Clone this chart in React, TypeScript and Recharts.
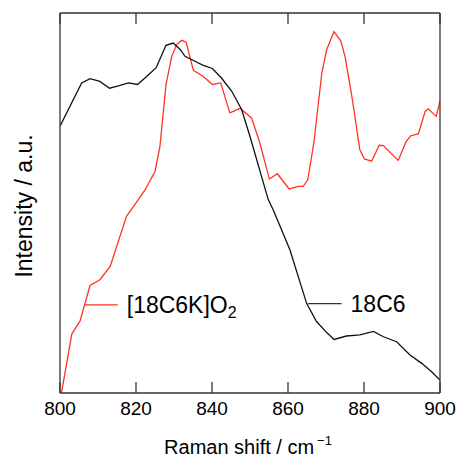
import React from 'react';
import { LineChart, Line, XAxis, YAxis, ReferenceLine } from 'recharts';

// Raman shift (cm-1) and intensity (a.u.)
const SHIFT_18C6 = [800, 805.7, 807.9, 810.5, 813, 815.4, 818, 820.4, 822.8, 825.3, 827.9, 829.8, 831.6, 832.9, 835.1, 837.7, 840.1, 842.5, 845.2, 847.8, 850, 854.8, 856.1, 860.5, 864.9, 867.5, 870.2, 872.1, 875.4, 878.9, 882.5, 885.1, 888.6, 892.1, 895.2, 897.8, 900];
const INT_18C6 = [70.2, 81.6, 82.7, 82.0, 80.2, 80.8, 81.6, 81.2, 83.3, 85.6, 91.5, 92.1, 90.4, 88.6, 87.5, 86.2, 85.4, 82.9, 79.4, 74.6, 67.5, 50.9, 48.2, 37.7, 23.6, 18.8, 15.9, 14.1, 15.0, 15.3, 16.2, 14.8, 13.5, 10.0, 7.8, 5.6, 3.4];

const SHIFT_K = [800.4, 803.1, 805.3, 807.9, 810.5, 813.2, 817.5, 820.6, 822.4, 825, 826.3, 827.9, 829.4, 830.7, 832, 833.2, 835.1, 837.7, 840.1, 842.3, 844.7, 847.4, 850.4, 852.6, 855.1, 857.2, 860.3, 862.7, 864, 865.2, 866.8, 868.9, 870.2, 872.1, 873.9, 875, 876.8, 878.9, 880.1, 882, 884, 885.1, 889, 891.1, 892.3, 894.3, 896.1, 896.9, 899, 900];
const INT_K = [0.1, 15.5, 19.0, 28.3, 29.8, 33.3, 46.5, 50.9, 53.5, 58.3, 64.9, 81.2, 88.6, 91.7, 92.8, 92.3, 84.9, 83.3, 81.2, 81.6, 73.7, 74.9, 72.4, 65.8, 56.3, 57.7, 53.7, 54.4, 54.4, 56.1, 65.8, 84.2, 90.4, 95.1, 92.6, 88.6, 78.1, 64.0, 61.6, 61.0, 65.2, 65.1, 61.2, 66.2, 67.7, 68.2, 74.1, 74.8, 72.8, 76.8];

const X_TICKS = [800, 820, 840, 860, 880, 900];

// leader lines next to the in-plot labels: [x start, x end, y]
const LEAD_K = [806.4, 815.2, 23.2];
const LEAD_18C6 = [865.3, 874.1, 23.5];

const RED = '#FF3322';
const AXIS = '#333';
const Y_MAX = 100;
const TOP_TICK = 2.9; // inward tick length on the top frame, in y units

const data18C6 = SHIFT_18C6.map((x, i) => ({ x, y: INT_18C6[i] }));
const dataK = SHIFT_K.map((x, i) => ({ x, y: INT_K[i] }));

const YTitle = (props: any) => {
  const { viewBox } = props;
  const cx = viewBox.x - 27;
  const cy = viewBox.y + viewBox.height / 2 + 3;
  return (
    <text x={cx} y={cy} transform={`rotate(-90 ${cx} ${cy})`} textAnchor="middle" fontSize={23} fill="#000">
      Intensity / a.u.
    </text>
  );
};

const XTitle = (props: any) => {
  const { viewBox } = props;
  return (
    <text x={viewBox.x + viewBox.width / 2 - 2} y={viewBox.y + 61} textAnchor="middle" fontSize={20} fill="#000">
      Raman shift / cm
      <tspan dx={3} dy={-9} fontSize={13}>−1</tspan>
    </text>
  );
};

const tagLabel = (kind: 'K' | 'C') => (props: any) => {
  const { viewBox } = props;
  const x = viewBox.x + viewBox.width + 9;
  const y = viewBox.y + 8;
  if (kind === 'C') {
    return <text x={x} y={y} fontSize={23} fill="#000">18C6</text>;
  }
  return (
    <text x={x} y={y} fontSize={23} fill="#000">
      [18C6K]O<tspan dy={5} fontSize={16}>2</tspan>
    </text>
  );
};

export default function App() {
  return (
    <div style={{ position: 'absolute', left: 0, top: 0, fontFamily: '"Liberation Sans", Arial, sans-serif' }}>
      <LineChart width={460} height={457} margin={{ top: 12, right: 19, left: 59, bottom: 34 }}>
        <XAxis
          dataKey="x"
          type="number"
          domain={[800, 900]}
          ticks={X_TICKS}
          allowDataOverflow
          stroke={AXIS}
          strokeWidth={1.3}
          tickSize={-11}
          tickMargin={20}
          height={30}
          tick={{ fontSize: 19, fill: '#000' }}
          label={<XTitle />}
        />
        <XAxis
          xAxisId="top"
          orientation="top"
          type="number"
          domain={[800, 900]}
          allowDataOverflow
          stroke={AXIS}
          strokeWidth={1.3}
          height={1}
          tick={false}
          tickLine={false}
        />
        <YAxis
          type="number"
          domain={[0, Y_MAX]}
          allowDataOverflow
          width={1}
          tick={false}
          tickLine={false}
          stroke={AXIS}
          strokeWidth={1.3}
          label={<YTitle />}
        />
        <YAxis
          yAxisId="right"
          orientation="right"
          type="number"
          domain={[0, Y_MAX]}
          width={1}
          tick={false}
          tickLine={false}
          stroke={AXIS}
          strokeWidth={1.3}
        />
        {X_TICKS.map((t) => (
          <ReferenceLine
            key={`top-${t}`}
            segment={[{ x: t, y: Y_MAX }, { x: t, y: Y_MAX - TOP_TICK }]}
            ifOverflow="visible"
            stroke={AXIS}
            strokeWidth={1.3}
          />
        ))}
        <Line data={dataK} dataKey="y" type="linear" stroke={RED} strokeWidth={1.3} dot={false} isAnimationActive={false} />
        <Line data={data18C6} dataKey="y" type="linear" stroke="#111" strokeWidth={1.3} dot={false} isAnimationActive={false} />
        <ReferenceLine
          segment={[{ x: LEAD_K[0], y: LEAD_K[2] }, { x: LEAD_K[1], y: LEAD_K[2] }]}
          stroke={RED}
          strokeWidth={1.3}
          label={tagLabel('K')}
        />
        <ReferenceLine
          segment={[{ x: LEAD_18C6[0], y: LEAD_18C6[2] }, { x: LEAD_18C6[1], y: LEAD_18C6[2] }]}
          stroke={AXIS}
          strokeWidth={1.3}
          label={tagLabel('C')}
        />
      </LineChart>
    </div>
  );
}
